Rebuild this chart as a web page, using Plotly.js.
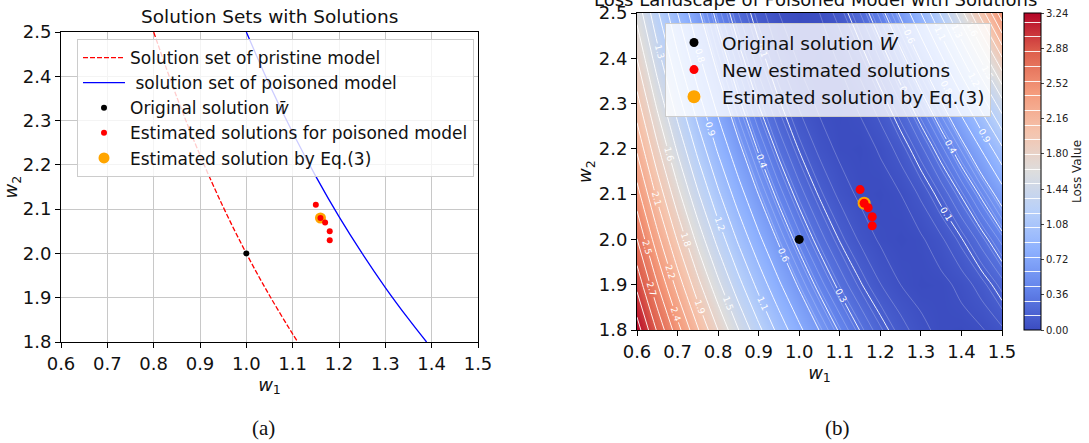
<!DOCTYPE html>
<html><head><meta charset="utf-8">
<script src="https://cdn.plot.ly/plotly-3.0.1.min.js"></script>
<style>html,body{margin:0;padding:0;background:#fff}</style>
</head><body><div id="chart" style="width:1089px;height:443px"></div>
<script>
// ---- data ----
const pristineW1 = [0.8, 0.85, 0.9, 0.95, 1.0, 1.05, 1.1, 1.111];
const pristineW2 = [2.5, 2.353, 2.222, 2.105, 2.0, 1.905, 1.818, 1.8];
const poisonedW1 = [1.0, 1.05, 1.1, 1.15, 1.2, 1.25, 1.3, 1.35, 1.389];
const poisonedW2 = [2.5, 2.381, 2.273, 2.174, 2.083, 2.0, 1.923, 1.852, 1.8];
const originalW1 = [1.0];
const originalW2 = [2.0];
const estimatedW1 = [1.15, 1.16, 1.17, 1.18, 1.18];
const estimatedW2 = [2.11, 2.08, 2.07, 2.05, 2.03];
const eqW1 = [1.16];
const eqW2 = [2.08];
const gridW1 = [0.6, 0.65, 0.7, 0.75, 0.8, 0.85, 0.9, 0.95, 1.0, 1.05, 1.1, 1.15, 1.2, 1.25, 1.3, 1.35, 1.4, 1.45, 1.5];
const gridW2 = [1.8, 1.9, 2.0, 2.1, 2.2, 2.3, 2.4, 2.5];
const lossZ = [
  [3.226, 2.830, 2.460, 2.116, 1.798, 1.505, 1.239, 0.999, 0.784, 0.595, 0.433, 0.296, 0.185, 0.100, 0.041, 0.008, 0.001, 0.019, 0.064],
  [2.959, 2.560, 2.190, 1.849, 1.537, 1.253, 0.999, 0.773, 0.576, 0.408, 0.269, 0.159, 0.077, 0.025, 0.001, 0.007, 0.041, 0.104, 0.196],
  [2.704, 2.304, 1.936, 1.600, 1.296, 1.024, 0.784, 0.576, 0.400, 0.256, 0.144, 0.064, 0.016, 0.000, 0.016, 0.064, 0.144, 0.256, 0.400],
  [2.460, 2.061, 1.697, 1.369, 1.076, 0.818, 0.595, 0.408, 0.256, 0.139, 0.058, 0.012, 0.001, 0.025, 0.085, 0.180, 0.310, 0.475, 0.676],
  [2.228, 1.832, 1.475, 1.156, 0.876, 0.635, 0.433, 0.269, 0.144, 0.058, 0.010, 0.001, 0.031, 0.100, 0.207, 0.353, 0.538, 0.762, 1.024],
  [2.007, 1.616, 1.267, 0.961, 0.697, 0.475, 0.296, 0.159, 0.064, 0.012, 0.001, 0.034, 0.108, 0.225, 0.384, 0.586, 0.829, 1.116, 1.444],
  [1.798, 1.414, 1.076, 0.784, 0.538, 0.339, 0.185, 0.077, 0.016, 0.001, 0.031, 0.108, 0.231, 0.400, 0.615, 0.876, 1.183, 1.537, 1.936],
  [1.600, 1.225, 0.900, 0.625, 0.400, 0.225, 0.100, 0.025, 0.000, 0.025, 0.100, 0.225, 0.400, 0.625, 0.900, 1.225, 1.600, 2.025, 2.500]
];
const axisTicks = [0.6, 0.7, 0.8, 0.9, 1.0, 1.1, 1.2, 1.3, 1.4, 1.5];
const cbTicks = [0, 0.36, 0.72, 1.08, 1.44, 1.80, 2.16, 2.52, 2.88, 3.24];

const coolwarm = [
  [0.0, 'rgb(59,76,192)'], [0.125, 'rgb(98,130,234)'], [0.25, 'rgb(141,176,254)'],
  [0.375, 'rgb(184,208,249)'], [0.5, 'rgb(221,221,221)'], [0.625, 'rgb(245,196,173)'],
  [0.75, 'rgb(244,154,123)'], [0.875, 'rgb(222,96,77)'], [1.0, 'rgb(180,4,38)']
];

const FONT = 'DejaVu Sans, sans-serif';

const traces = [
  // (a)
  {x: pristineW1, y: pristineW2, type: 'scatter', mode: 'lines', line: {color: 'red', width: 1.3, dash: '5px,2px', shape: 'spline'},
   name: 'Solution set of pristine model', xaxis: 'x', yaxis: 'y', legend: 'legend', legendrank: 1},
  {x: poisonedW1, y: poisonedW2, type: 'scatter', mode: 'lines', line: {color: 'blue', width: 1.3, shape: 'spline'},
   name: ' solution set of poisoned model', xaxis: 'x', yaxis: 'y', legend: 'legend', legendrank: 2},
  {x: originalW1, y: originalW2, type: 'scatter', mode: 'markers', marker: {color: 'black', size: 6},
   name: 'Original solution <i>w\u0304</i>', xaxis: 'x', yaxis: 'y', legend: 'legend', legendrank: 3},
  {x: eqW1, y: eqW2, type: 'scatter', mode: 'markers', marker: {color: 'orange', size: 11},
   name: 'Estimated solution by Eq.(3)', xaxis: 'x', yaxis: 'y', legend: 'legend', legendrank: 5},
  {x: estimatedW1, y: estimatedW2, type: 'scatter', mode: 'markers', marker: {color: 'red', size: 6},
   name: 'Estimated solutions for poisoned model', xaxis: 'x', yaxis: 'y', legend: 'legend', legendrank: 4},
  // (b)
  {x: gridW1, y: gridW2, z: lossZ, type: 'contour', xaxis: 'x2', yaxis: 'y2', colorscale: coolwarm,
   zauto: false, zmin: 0, zmax: 3.24, autocontour: false,
   contours: {start: 0.15, end: 3.15, size: 0.15, coloring: 'heatmap', showlabels: true,
              labelfont: {color: 'white', size: 9, family: FONT}, labelformat: '.1f'},
   line: {color: 'rgba(255,255,255,0.9)', width: 1, smoothing: 0.8},
   showlegend: false, hoverinfo: 'skip',
   colorbar: {x: 1024/1089, xanchor: 'left', xpad: 0, y: 1 - 330/443, yanchor: 'bottom', ypad: 0,
              len: 317/443, lenmode: 'fraction', thickness: 17, outlinewidth: 1, outlinecolor: 'black',
              tickvals: cbTicks, ticktext: cbTicks.map(v => v.toFixed(2)), ticks: 'outside', ticklen: 3,
              tickfont: {size: 10, family: FONT, color: '#222'},
              title: {text: 'Loss Value', side: 'right', font: {size: 12, family: FONT, color: '#222'}}}},
  {x: gridW1, y: gridW2, z: lossZ, type: 'contour', xaxis: 'x2', yaxis: 'y2', autocontour: false,
   contours: {start: 0.025, end: 0.575, size: 0.05, coloring: 'none'},
   line: {color: 'rgba(255,255,255,0.4)', width: 0.6, smoothing: 0.8},
   showscale: false, showlegend: false, hoverinfo: 'skip'},
  {x: originalW1, y: originalW2, type: 'scatter', mode: 'markers', marker: {color: 'black', size: 9},
   name: 'Original solution <i>W\u0304</i>', xaxis: 'x2', yaxis: 'y2', legend: 'legend2', legendrank: 1},
  {x: eqW1, y: eqW2, type: 'scatter', mode: 'markers', marker: {color: 'orange', size: 13},
   name: 'Estimated solution by Eq.(3)', xaxis: 'x2', yaxis: 'y2', legend: 'legend2', legendrank: 3},
  {x: estimatedW1, y: estimatedW2, type: 'scatter', mode: 'markers', marker: {color: 'red', size: 9},
   name: 'New estimated solutions', xaxis: 'x2', yaxis: 'y2', legend: 'legend2', legendrank: 2}
];

const baseAxis = {
  ticks: 'outside', ticklen: 5, tickcolor: 'black', showline: true, linecolor: 'black', linewidth: 1,
  mirror: true, zeroline: false, tickfont: {size: 18, family: FONT, color: '#111'}, automargin: false
};

const layout = {
  width: 1089, height: 443, margin: {l: 0, r: 0, t: 0, b: 0},
  paper_bgcolor: 'white', plot_bgcolor: 'white', font: {family: FONT, color: '#111'},
  xaxis: Object.assign({}, baseAxis, {domain: [61/1089, 478/1089], range: [0.6, 1.5], tickvals: axisTicks,
    ticktext: axisTicks.map(v => v.toFixed(1)), showgrid: true, gridcolor: '#c8c8c8', gridwidth: 1, anchor: 'y',
    title: {text: '<i>w</i><sub>1</sub>', font: {size: 18, family: FONT}, standoff: 0}}),
  yaxis: Object.assign({}, baseAxis, {domain: [1 - 342/443, 1 - 32/443], range: [1.8, 2.5], dtick: 0.1,
    tickformat: '.1f', showgrid: true, gridcolor: '#c8c8c8', gridwidth: 1, anchor: 'x',
    title: {text: '<i>w</i><sub>2</sub>', font: {size: 18, family: FONT}, standoff: 2}}),
  xaxis2: Object.assign({}, baseAxis, {domain: [637/1089, 1002/1089], range: [0.6, 1.5], tickvals: axisTicks,
    ticktext: axisTicks.map(v => v.toFixed(1)), showgrid: false, anchor: 'y2',
    title: {text: '<i>w</i><sub>1</sub>', font: {size: 18, family: FONT}, standoff: 0}}),
  yaxis2: Object.assign({}, baseAxis, {domain: [1 - 330/443, 1 - 13/443], range: [1.8, 2.5], dtick: 0.1,
    tickformat: '.1f', showgrid: false, anchor: 'x2',
    title: {text: '<i>w</i><sub>2</sub>', font: {size: 18, family: FONT}, standoff: 2}}),
  legend: {x: 77/1089, y: 1 - 39/443, xanchor: 'left', yanchor: 'top', bgcolor: 'rgba(255,255,255,0.8)',
    bordercolor: '#cccccc', borderwidth: 1, font: {size: 17, family: FONT, color: '#111'}, itemwidth: 42,
    traceorder: 'normal'},
  legend2: {x: 665/1089, y: 1 - 23/443, xanchor: 'left', yanchor: 'top', bgcolor: 'rgba(255,255,255,0.8)',
    bordercolor: '#cccccc', borderwidth: 1, font: {size: 18.5, family: FONT, color: '#111'}, itemwidth: 46,
    traceorder: 'normal'},
  annotations: [
    {text: 'Solution Sets with Solutions', x: (61 + 478) / 2 / 1089, y: 1 - 29/443, xref: 'paper', yref: 'paper',
     xanchor: 'center', yanchor: 'bottom', showarrow: false, font: {size: 18.5, family: FONT, color: '#111'}},
    {text: 'Loss Landscape of Poisoned Model with Solutions', x: 815/1089, y: 1 - 12/443, xref: 'paper', yref: 'paper',
     xanchor: 'center', yanchor: 'bottom', showarrow: false, font: {size: 18, family: FONT, color: '#111'}},
    {text: '(a)', x: 263/1089, y: 1 - 428/443, xref: 'paper', yref: 'paper', xanchor: 'center', yanchor: 'middle',
     showarrow: false, font: {size: 21, family: 'Liberation Serif, serif', color: '#111'}},
    {text: '(b)', x: 837/1089, y: 1 - 428/443, xref: 'paper', yref: 'paper', xanchor: 'center', yanchor: 'middle',
     showarrow: false, font: {size: 21, family: 'Liberation Serif, serif', color: '#111'}}
  ]
};

Plotly.newPlot('chart', traces, layout, {staticPlot: true, displayModeBar: false});
</script>
</body></html>
